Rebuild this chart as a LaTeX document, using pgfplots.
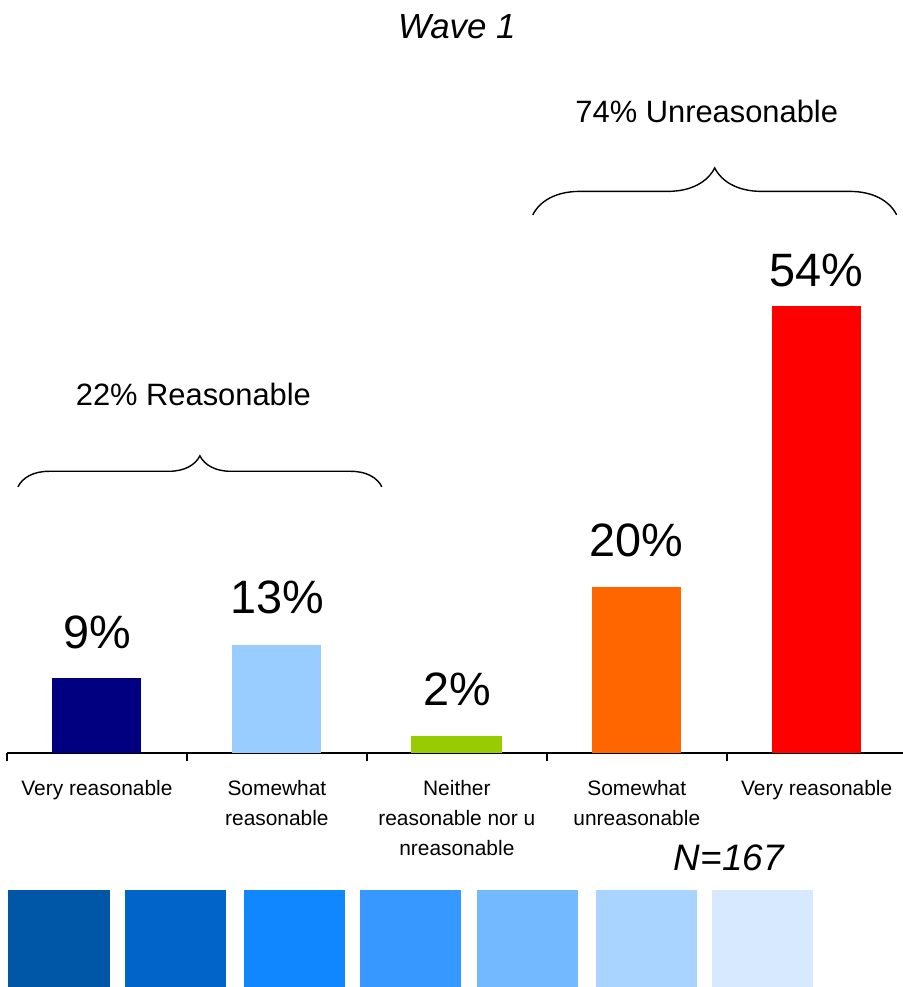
\documentclass[border=0pt]{standalone}
\usepackage{fontspec}
\setmainfont{Liberation Sans}
\usepackage{pgfplots}
\pgfplotsset{compat=1.18}
\usetikzlibrary{decorations.pathreplacing}

\definecolor{cNavy}{RGB}{0,0,128}
\definecolor{cLight}{RGB}{153,204,255}
\definecolor{cGreen}{RGB}{153,204,0}
\definecolor{cOrange}{RGB}{255,102,0}
\definecolor{cRed}{RGB}{255,0,0}
\definecolor{sq1}{RGB}{0,87,168}
\definecolor{sq2}{RGB}{0,100,200}
\definecolor{sq3}{RGB}{16,135,255}
\definecolor{sq4}{RGB}{55,153,255}
\definecolor{sq5}{RGB}{115,185,255}
\definecolor{sq6}{RGB}{168,212,255}
\definecolor{sq7}{RGB}{214,233,255}

\begin{document}
\begin{tikzpicture}
\begin{axis}[
    scale only axis,
    width=896bp, height=753bp,
    xmin=-0.5, xmax=4.4778,
    ymin=0, ymax=90.94,
    clip=false,
    axis y line=none,
    axis x line=bottom,
    x axis line style={line width=1.8bp, -},
    xtick={0,1,2,3,4},
    xticklabels={Very reasonable, Somewhat\\reasonable, Neither\\reasonable nor u\\nreasonable, Somewhat\\unreasonable, Very reasonable},
    major tick length=0pt,
    xticklabel style={font=\fontsize{21}{30}\selectfont, align=center, yshift=-24bp},
    extra x ticks={-0.5,0.5,1.5,2.5,3.5},
    extra x tick labels={},
    extra x tick style={major tick length=8bp, tick align=outside,
        tick style={line width=1.6bp, black}},
    /pgf/number format/assume math mode=true,
    every node near coord/.append style={font=\fontsize{47}{50}\selectfont, anchor=base, black},
    nodes near coords={\pgfmathprintnumber{\pgfplotspointmeta}\%},
]

% bars
\addplot[ybar, bar width=89bp, fill=cNavy, draw=none,
  every node near coord/.append style={yshift=30bp}] coordinates {(0,9)};
\addplot[ybar, bar width=89bp, fill=cLight, draw=none,
  every node near coord/.append style={yshift=32bp}] coordinates {(1,13)};
\addplot[ybar, bar width=91bp, fill=cGreen, draw=none,
  every node near coord/.append style={yshift=31bp}] coordinates {(2,2)};
\addplot[ybar, bar width=89bp, fill=cOrange, draw=none,
  every node near coord/.append style={yshift=31bp}] coordinates {(3,20)};
\addplot[ybar, bar width=89bp, fill=cRed, draw=none,
  every node near coord/.append style={yshift=19bp}] coordinates {(4,54)};

% colour strip
\addplot[fill=sq1, draw=none, mark=none, nodes near coords={}] coordinates {(-0.4944,-16.55) (0.0722,-16.55) (0.0722,-28.3) (-0.4944,-28.3)} -- cycle;
\addplot[fill=sq2, draw=none, mark=none, nodes near coords={}] coordinates {(0.1556,-16.55) (0.7167,-16.55) (0.7167,-28.3) (0.1556,-28.3)} -- cycle;
\addplot[fill=sq3, draw=none, mark=none, nodes near coords={}] coordinates {(0.8167,-16.55) (1.3778,-16.55) (1.3778,-28.3) (0.8167,-28.3)} -- cycle;
\addplot[fill=sq4, draw=none, mark=none, nodes near coords={}] coordinates {(1.4611,-16.55) (2.0222,-16.55) (2.0222,-28.3) (1.4611,-28.3)} -- cycle;
\addplot[fill=sq5, draw=none, mark=none, nodes near coords={}] coordinates {(2.1111,-16.55) (2.6722,-16.55) (2.6722,-28.3) (2.1111,-28.3)} -- cycle;
\addplot[fill=sq6, draw=none, mark=none, nodes near coords={}] coordinates {(2.7722,-16.55) (3.3333,-16.55) (3.3333,-28.3) (2.7722,-28.3)} -- cycle;
\addplot[fill=sq7, draw=none, mark=none, nodes near coords={}] coordinates {(3.4167,-16.55) (3.9778,-16.55) (3.9778,-28.3) (3.4167,-28.3)} -- cycle;

% braces and texts
\draw[line width=1.4bp, decorate, decoration={brace, amplitude=31bp}]
  (axis cs:-0.439,32.13) -- (axis cs:1.583,32.13);
\draw[line width=1.4bp, decorate, decoration={brace, amplitude=47bp}]
  (axis cs:2.422,64.98) -- (axis cs:4.444,64.98);
\node[anchor=base, font=\fontsize{31}{34}\selectfont] at (axis cs:0.536,41.9) {22\% Reasonable};
\node[anchor=base, font=\fontsize{31}{34}\selectfont] at (axis cs:3.389,76.09) {74\% Unreasonable};
\node[anchor=base, font=\fontsize{35}{40}\selectfont\itshape] at (axis cs:2.0,86.23) {Wave 1};
\node[anchor=base, font=\fontsize{37}{40}\selectfont\itshape] at (axis cs:3.511,-14.25) {N=167};

\coordinate (bl) at (axis cs:-0.5389,-28.3);
\coordinate (tr) at (axis cs:4.4778,90.94);
\end{axis}
\pgfresetboundingbox
\path[use as bounding box] (bl) rectangle (tr);
\end{tikzpicture}
\end{document}
